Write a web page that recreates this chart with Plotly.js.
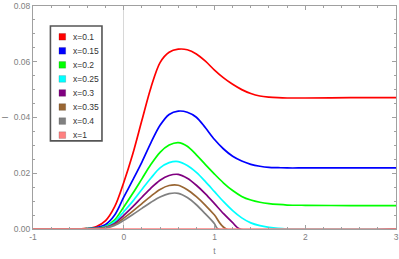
<!DOCTYPE html>
<html>
<head>
<meta charset="utf-8">
<script src="https://cdn.plot.ly/plotly-3.0.1.min.js"></script>
<style>html,body{margin:0;padding:0;background:#fff;}#chart{width:399px;height:259px;}</style>
</head>
<body>
<div id="chart"></div>
<script>
// ---- data ----
var seriesNames = ["x=0.1", "x=0.15", "x=0.2", "x=0.25", "x=0.3", "x=0.35", "x=0.4", "x=1"];
var seriesColors = ["rgb(255,0,0)", "rgb(0,0,255)", "rgb(0,255,0)", "rgb(0,255,255)",
                    "rgb(128,0,128)", "rgb(153,102,51)", "rgb(128,128,128)", "rgb(255,128,128)"];

var tLong = [-1, -0.5, -0.4, -0.3, -0.2, -0.1, 0, 0.1, 0.2, 0.3, 0.4, 0.5, 0.6, 0.7, 0.8, 0.9,
             1.0, 1.1, 1.2, 1.3, 1.4, 1.5, 1.6, 1.7, 1.8, 2.0, 2.5, 3.0];
var I_x01 = [0, 0.0000, 0.0002, 0.0009, 0.0030, 0.0080, 0.0167, 0.0270, 0.0390, 0.0508, 0.0597, 0.0634, 0.0645, 0.0643, 0.0628, 0.0602,
             0.0570, 0.0542, 0.0519, 0.0500, 0.0486, 0.0477, 0.0473, 0.0471, 0.0470, 0.0470, 0.0471, 0.0471];
var I_x015 = [0, 0.0000, 0.0001, 0.0005, 0.0016, 0.0050, 0.0114, 0.0176, 0.0240, 0.0310, 0.0372, 0.0411, 0.0423, 0.0419, 0.0401, 0.0363,
              0.0321, 0.0287, 0.0261, 0.0244, 0.0232, 0.0225, 0.0221, 0.0220, 0.0219, 0.0219, 0.0219, 0.0219];
var I_x02 = [0, 0.0000, 0.0001, 0.0003, 0.0010, 0.0033, 0.0079, 0.0128, 0.0180, 0.0232, 0.0275, 0.0301, 0.0310, 0.0297, 0.0266, 0.0231,
             0.0197, 0.0165, 0.0138, 0.0117, 0.0104, 0.0096, 0.0091, 0.0088, 0.0086, 0.0085, 0.0084, 0.0084];
var I_x025 = [0, 0.0000, 0.0001, 0.0002, 0.0008, 0.0026, 0.0062, 0.0100, 0.0142, 0.0183, 0.0219, 0.0238, 0.0242, 0.0228, 0.0203, 0.0170,
              0.0134, 0.0098, 0.0066, 0.0040, 0.0022, 0.0012, 0.0006, 0.0002, 0.0000, 0, 0, 0];

var tShort03 = [-1, -0.5, -0.4, -0.3, -0.2, -0.1, 0, 0.1, 0.2, 0.3, 0.4, 0.5, 0.6, 0.7, 0.8, 0.9, 1.0, 1.1, 1.2, 1.28, 3.0];
var I_x03 = [0, 0.0000, 0.0000, 0.0002, 0.0006, 0.0020, 0.0049, 0.0080, 0.0114, 0.0147, 0.0175, 0.0192, 0.0196, 0.0182, 0.0157, 0.0126, 0.0091, 0.0055, 0.0023, 0, 0];
var tShort035 = [-1, -0.5, -0.4, -0.3, -0.2, -0.1, 0, 0.1, 0.2, 0.3, 0.4, 0.5, 0.6, 0.7, 0.8, 0.9, 1.0, 1.13, 3.0];
var I_x035 = [0, 0.0000, 0.0000, 0.0001, 0.0005, 0.0016, 0.0039, 0.0064, 0.0091, 0.0118, 0.0142, 0.0156, 0.0157, 0.0141, 0.0116, 0.0085, 0.0050, 0, 0];
var tShort04 = [-1, -0.5, -0.4, -0.3, -0.2, -0.1, 0, 0.1, 0.2, 0.3, 0.4, 0.5, 0.6, 0.7, 0.8, 0.9, 1.0, 1.04, 3.0];
var I_x04 = [0, 0.0000, 0.0000, 0.0001, 0.0004, 0.0013, 0.0031, 0.0052, 0.0074, 0.0096, 0.0115, 0.0127, 0.0128, 0.0113, 0.0087, 0.0054, 0.0019, 0, 0];
var tFlat = [-1, 0, 1, 2, 3];
var I_x1 = [0, 0, 0, 0, 0];

var xTickVals = [-1, 0, 1, 2, 3];
var yTickVals = [0, 0.02, 0.04, 0.06, 0.08];

var tData = [tLong, tLong, tLong, tLong, tShort03, tShort035, tShort04, tFlat];
var iData = [I_x01, I_x015, I_x02, I_x025, I_x03, I_x035, I_x04, I_x1];

var traces = [];
for (var k = 0; k < seriesNames.length; k++) {
  traces.push({
    x: tData[k], y: iData[k], type: 'scatter', mode: 'lines', name: seriesNames[k],
    line: {color: seriesColors[k], width: 1.7, shape: 'spline', smoothing: 0.9},
    showlegend: false, hoverinfo: 'skip'
  });
}

// legend drawn as shapes + annotations (paper coordinates)
var shapes = [{type: 'rect', xref: 'paper', yref: 'paper', x0: 0.048, x1: 0.190, y0: 0.395, y1: 0.910,
               fillcolor: '#ffffff', line: {color: '#555555', width: 1.6}, layer: 'above'}];
var annotations = [];
var rowTop = 0.862, rowStep = 0.063;
for (var k = 0; k < seriesNames.length; k++) {
  var yc = rowTop - k * rowStep;
  shapes.push({type: 'rect', xref: 'paper', yref: 'paper', x0: 0.0715, x1: 0.0900,
               y0: yc - 0.015, y1: yc + 0.015, fillcolor: seriesColors[k],
               line: {color: 'rgba(0,0,0,0.25)', width: 0.6}, layer: 'above'});
  annotations.push({xref: 'paper', yref: 'paper', x: 0.106, y: yc, xanchor: 'left', yanchor: 'middle',
                    text: seriesNames[k], showarrow: false,
                    font: {family: 'Liberation Sans, Arial, sans-serif', size: 8.5, color: '#333333'}});
}

var axisFont = {family: 'Liberation Sans, Arial, sans-serif', size: 8.5, color: '#808080'};
var layout = {
  width: 399, height: 259,
  margin: {l: 33, r: 3, t: 6, b: 30, pad: 0},
  paper_bgcolor: '#ffffff', plot_bgcolor: '#ffffff',
  showlegend: false,
  xaxis: {
    range: [-1, 3], tickvals: xTickVals, ticktext: xTickVals.map(String),
    ticks: 'inside', ticklen: 4, tickwidth: 1, tickcolor: '#a0a0a0',
    showline: true, linecolor: '#a0a0a0', linewidth: 1, mirror: 'allticks',
    showgrid: false, zeroline: true, zerolinecolor: '#d8d8d8', zerolinewidth: 1.2,
    tickfont: axisFont,
    minor: {dtick: 0.2, ticks: 'inside', ticklen: 2, tickcolor: '#a0a0a0', showgrid: false},
    title: {text: 't', font: axisFont, standoff: 6},
    fixedrange: true
  },
  yaxis: {
    range: [0, 0.08], tickvals: yTickVals, tickformat: '.2f',
    ticks: 'inside', ticklen: 4, tickwidth: 1, tickcolor: '#a0a0a0',
    showline: true, linecolor: '#a0a0a0', linewidth: 1, mirror: 'allticks',
    showgrid: false, zeroline: false,
    tickfont: axisFont,
    minor: {dtick: 0.005, ticks: 'inside', ticklen: 2, tickcolor: '#a0a0a0', showgrid: false},
    title: {text: 'I', font: axisFont, standoff: 4},
    fixedrange: true
  },
  shapes: shapes,
  annotations: annotations
};

Plotly.newPlot('chart', traces, layout, {displayModeBar: false, staticPlot: true});
</script>
</body>
</html>
